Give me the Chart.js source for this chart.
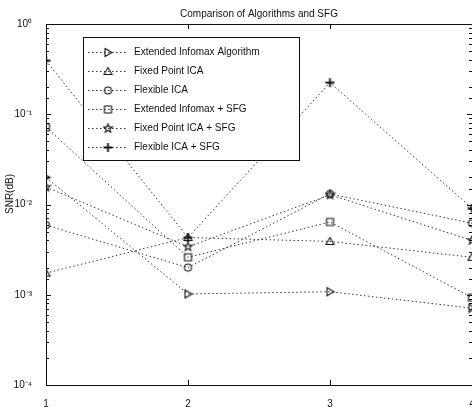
<!DOCTYPE html>
<html>
<head>
<meta charset="utf-8">
<script src="https://cdn.jsdelivr.net/npm/chart.js@4/dist/chart.umd.min.js"></script>
<style>
  html, body { margin: 0; padding: 0; background: #fff; overflow: hidden; }
  #wrap { width: 480px; height: 407px; }
</style>
</head>
<body>
<div id="wrap"><canvas id="snrChart" width="480" height="407"></canvas></div>
<script>
// Trial number on the x axis
const runs = [1, 2, 3, 4];

// SNR per algorithm (log scale)
const extInfomax = [0.020, 0.00102, 0.00108, 0.00071];
const fixedPoint = [0.00174, 0.0043, 0.0039, 0.0026];
const flexible = [0.0059, 0.0020, 0.0131, 0.0062];
const extInfomaxSfg = [0.072, 0.0026, 0.0064, 0.00093];
const fixedPointSfg = [0.0156, 0.0034, 0.0128, 0.0040];
const flexibleSfg = [0.392, 0.0043, 0.224, 0.0091];

const seriesNames = [
  "Extended Infomax Algorithm",
  "Fixed Point ICA",
  "Flexible ICA",
  "Extended Infomax + SFG",
  "Fixed Point ICA + SFG",
  "Flexible ICA + SFG",
];
const yTickPowers = [0, -1, -2, -3, -4];

const FONT = "'Liberation Sans', Arial, Helvetica, sans-serif";
const INK = "#111";
const LINE = "#3a3a3a";

// small marker images, MATLAB style (outlined, no fill)
function makeMarker(draw) {
  const c = document.createElement("canvas");
  c.width = 11;
  c.height = 11;
  const g = c.getContext("2d");
  g.translate(5.5, 5.5);
  g.strokeStyle = INK;
  g.lineWidth = 1.1;
  g.beginPath();
  draw(g);
  g.stroke();
  return c;
}

const markers = [
  makeMarker((g) => { g.moveTo(-3, -4); g.lineTo(4, 0); g.lineTo(-3, 4); g.closePath(); }),
  makeMarker((g) => { g.moveTo(0, -4); g.lineTo(4, 3); g.lineTo(-4, 3); g.closePath(); }),
  makeMarker((g) => { g.arc(0, 0, 3.5, 0, Math.PI * 2); }),
  makeMarker((g) => { g.rect(-3.5, -3.5, 7, 7); }),
  makeMarker((g) => {
    for (let i = 0; i < 10; i++) {
      const r = i % 2 === 0 ? 4.5 : 1.9;
      const a = -Math.PI / 2 + (i * Math.PI) / 5;
      const px = r * Math.cos(a), py = r * Math.sin(a);
      if (i === 0) g.moveTo(px, py); else g.lineTo(px, py);
    }
    g.closePath();
  }),
  makeMarker((g) => {
    g.lineWidth = 1.8;
    g.moveTo(-4.5, 0); g.lineTo(4.5, 0);
    g.moveTo(0, -4.5); g.lineTo(0, 4.5);
  }),
];

const allSeries = [extInfomax, fixedPoint, flexible, extInfomaxSfg, fixedPointSfg, flexibleSfg];

const datasets = allSeries.map((vals, i) => ({
  label: seriesNames[i],
  data: runs.map((r, j) => ({ x: r, y: vals[j] })),
  borderColor: LINE,
  borderWidth: 1,
  borderDash: [1.5, 2.5],
  pointStyle: markers[i],
  pointRadius: 4,
  tension: 0,
  fill: false,
}));

function sup(n) {
  const map = { "-": "\u207B", "0": "\u2070", "1": "\u00B9", "2": "\u00B2", "3": "\u00B3", "4": "\u2074" };
  return String(n).split("").map((c) => map[c]).join("");
}

// box, inward ticks, title, y label and the legend
const decorations = {
  id: "decorations",
  afterDraw(chart) {
    const ctx = chart.ctx;
    const area = chart.chartArea;
    const xs = chart.scales.x;
    const ys = chart.scales.y;
    ctx.save();
    ctx.strokeStyle = INK;
    ctx.lineWidth = 1;

    // axes box
    ctx.beginPath();
    ctx.rect(Math.round(area.left) + 0.5, Math.round(area.top) + 0.5,
      Math.round(area.right - area.left), Math.round(area.bottom - area.top));
    ctx.stroke();

    // y ticks pointing inward
    ctx.beginPath();
    ys.ticks.forEach((t) => {
      const e = Math.log10(t.value);
      const major = Math.abs(e - Math.round(e)) < 1e-6;
      const len = major ? 5 : 3;
      const py = Math.round(ys.getPixelForValue(t.value)) + 0.5;
      ctx.moveTo(area.left, py); ctx.lineTo(area.left + len, py);
      ctx.moveTo(area.right, py); ctx.lineTo(area.right - len, py);
    });
    // x ticks pointing inward
    runs.forEach((r) => {
      const px = Math.round(xs.getPixelForValue(r)) + 0.5;
      ctx.moveTo(px, area.bottom); ctx.lineTo(px, area.bottom - 5);
      ctx.moveTo(px, area.top); ctx.lineTo(px, area.top + 5);
    });
    ctx.stroke();

    // title
    ctx.fillStyle = INK;
    ctx.font = "10px " + FONT;
    ctx.textAlign = "center";
    ctx.textBaseline = "middle";
    ctx.fillText("Comparison of Algorithms and SFG", (area.left + area.right) / 2, 14);

    // y axis label
    ctx.save();
    ctx.translate(10, 194);
    ctx.rotate(-Math.PI / 2);
    ctx.fillText("SNR(dB)", 0, 0);
    ctx.restore();

    // legend
    const lx = 83, ly = 37, lw = 216, lh = 123;
    ctx.fillStyle = "#fff";
    ctx.fillRect(lx, ly, lw, lh);
    ctx.strokeRect(lx + 0.5, ly + 0.5, lw, lh);
    ctx.textAlign = "left";
    chart.data.datasets.forEach((ds, i) => {
      const y = 52 + i * 19;
      ctx.save();
      ctx.strokeStyle = LINE;
      ctx.setLineDash(ds.borderDash);
      ctx.beginPath();
      ctx.moveTo(88, y + 0.5);
      ctx.lineTo(128, y + 0.5);
      ctx.stroke();
      ctx.restore();
      ctx.drawImage(ds.pointStyle, 108 - 5.5, y - 5);
      ctx.fillStyle = INK;
      ctx.fillText(ds.label, 134, y);
    });
    ctx.restore();
  },
};

new Chart(document.getElementById("snrChart").getContext("2d"), {
  type: "line",
  data: { datasets },
  options: {
    responsive: false,
    animation: false,
    devicePixelRatio: 1,
    layout: { padding: { top: 24, right: 8, left: 0, bottom: 0 } },
    plugins: {
      legend: { display: false },
      title: { display: false },
      tooltip: { enabled: false },
    },
    scales: {
      x: {
        type: "linear",
        min: 1,
        max: 4,
        ticks: { stepSize: 1, padding: 5, color: INK, font: { family: FONT, size: 10 } },
        grid: { display: false },
        border: { display: false },
        afterFit(s) { s.height = 22; },
      },
      y: {
        type: "logarithmic",
        min: 1e-4,
        max: 1,
        ticks: {
          autoSkip: false,
          padding: 6,
          color: INK,
          font: { family: FONT, size: 10 },
          callback(value) {
            const e = Math.log10(value);
            const r = Math.round(e);
            return Math.abs(e - r) < 1e-6 && yTickPowers.includes(r) ? "10" + sup(r) : "";
          },
        },
        grid: { display: false },
        border: { display: false },
        afterFit(s) { s.width = 46; },
      },
    },
  },
  plugins: [decorations],
});
</script>
</body>
</html>
